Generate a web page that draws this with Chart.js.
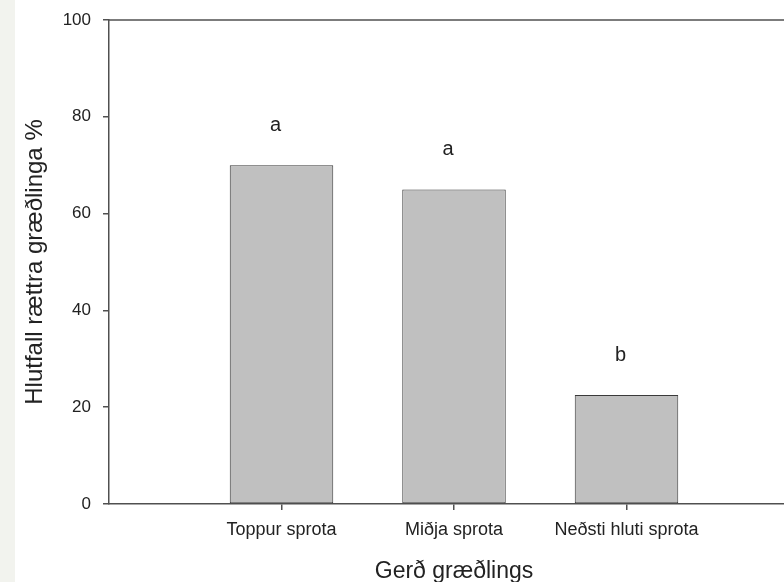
<!DOCTYPE html>
<html>
<head>
<meta charset="utf-8">
<script src="https://cdn.jsdelivr.net/npm/chart.js@4.4.1/dist/chart.umd.min.js"></script>
<style>
  html, body { margin: 0; padding: 0; background: #fff; overflow: hidden; }
  body { width: 784px; height: 582px; position: relative; }
  #strip { position: absolute; left: 0; top: 0; width: 15px; height: 582px; background: #f2f3ee; }
  #wrap { position: absolute; left: 0; top: 0; width: 808px; height: 582px; }
</style>
</head>
<body>
<div id="wrap"><canvas id="chart"></canvas></div>
<div id="strip"></div>
<script>
// gögn
const categories = ['Toppur sprota', 'Miðja sprota', 'Neðsti hluti sprota'];
const values = [70, 65, 22.5];
const letters = ['a', 'a', 'b'];
const yTicks = [0, 20, 40, 60, 80, 100];

const AXIS = '#505050';
const FONT = "'Liberation Sans', Arial, sans-serif";

// tómir flokkar til endanna, svo súlurnar sitji eins og á myndinni
const labels = [''].concat(categories, ['']);
const barData = [null].concat(values, [null]);

const topLine = {
  id: 'topLine',
  afterDraw(chart) {
    const { ctx, chartArea } = chart;
    ctx.save();
    ctx.strokeStyle = AXIS;
    ctx.lineWidth = 1.5;
    ctx.beginPath();
    ctx.moveTo(chartArea.left, chartArea.top);
    ctx.lineTo(chartArea.right, chartArea.top);
    ctx.stroke();
    ctx.restore();
  }
};

const letterLabels = {
  id: 'letterLabels',
  afterDatasetsDraw(chart) {
    const { ctx } = chart;
    const meta = chart.getDatasetMeta(0);
    ctx.save();
    ctx.fillStyle = '#222';
    ctx.font = '20px ' + FONT;
    ctx.textAlign = 'center';
    ctx.textBaseline = 'middle';
    categories.forEach((c, i) => {
      const bar = meta.data[i + 1];
      if (!bar) return;
      ctx.fillText(letters[i], bar.x - 6, bar.y - 40);
    });
    ctx.restore();
  }
};

new Chart(document.getElementById('chart'), {
  type: 'bar',
  data: {
    labels: labels,
    datasets: [{
      data: barData,
      backgroundColor: '#c0c0c0',
      borderColor: '#3a3a3a',
      borderWidth: 1,
      borderSkipped: false,
      barPercentage: 0.6,
      categoryPercentage: 1
    }]
  },
  options: {
    responsive: true,
    maintainAspectRatio: false,
    animation: false,
    layout: { padding: { top: 20, right: 0, left: 0, bottom: 0 } },
    plugins: { legend: { display: false }, tooltip: { enabled: false } },
    scales: {
      x: {
        offset: false,
        afterFit: (s) => { s.height = 78; },
        border: { color: AXIS, width: 1.5 },
        grid: {
          offset: false,
          drawOnChartArea: false,
          tickLength: 6,
          color: (c) => (c.index === 0 ? 'rgba(0,0,0,0)' : AXIS),
          lineWidth: 1.5
        },
        ticks: {
          color: '#222',
          font: { family: FONT, size: 18 },
          padding: 9,
          maxRotation: 0,
          autoSkip: false
        },
        title: {
          display: true,
          text: 'Gerð græðlings',
          color: '#222',
          font: { family: FONT, size: 23 },
          padding: { top: 0, bottom: -3 }
        }
      },
      y: {
        min: 0,
        max: 100,
        afterFit: (s) => { s.width = 109; s.paddingTop = 0; s.paddingBottom = 0; },
        afterBuildTicks: (s) => { s.ticks = yTicks.map(v => ({ value: v })); },
        border: { color: AXIS, width: 1.5 },
        grid: { drawOnChartArea: false, tickLength: 6, color: AXIS, lineWidth: 1.5 },
        ticks: {
          color: '#222',
          font: { family: FONT, size: 17 },
          padding: 12
        },
        title: {
          display: true,
          text: 'Hlutfall rættra græðlinga %',
          color: '#222',
          font: { family: FONT, size: 24 },
          padding: { top: 21, bottom: 0 }
        }
      }
    }
  },
  plugins: [topLine, letterLabels]
});
</script>
</body>
</html>
